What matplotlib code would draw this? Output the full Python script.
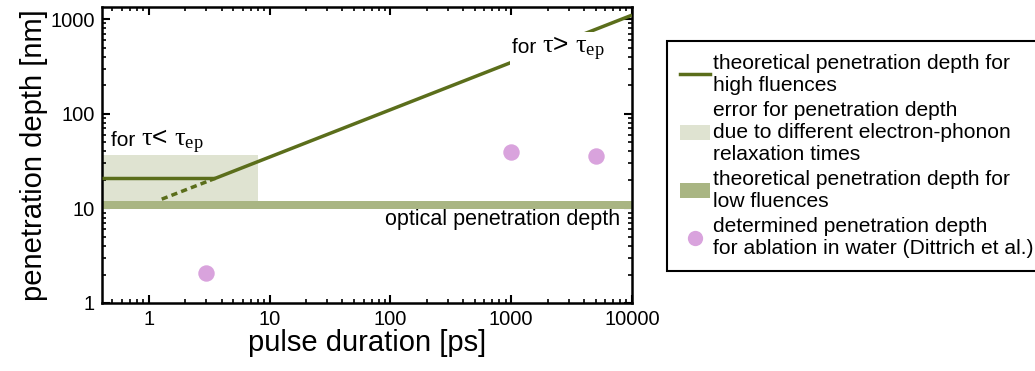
import matplotlib
matplotlib.use("Agg")
import matplotlib.pyplot as plt
from matplotlib.lines import Line2D
from matplotlib.patches import Patch
from matplotlib.offsetbox import TextArea, HPacker, AnnotationBbox

plt.rcParams['font.family'] = ['Liberation Sans', 'DejaVu Sans']
plt.rcParams['mathtext.fontset'] = 'custom'
plt.rcParams['mathtext.rm'] = 'Liberation Serif'
plt.rcParams['mathtext.it'] = 'Liberation Serif'
plt.rcParams['mathtext.bf'] = 'Liberation Serif:bold'

# ---- data ----
flat_x = [0.41, 3.5]
flat_y = [21.0, 21.0]
slope_x = [3.2, 10000]
slope_y = [19.7, 1100]
dash_x = [1.28, 3.2]
dash_y = [12.5, 19.7]
err_band_x = [0.41, 8.0]
err_band_lo = [12.0, 12.0]
err_band_hi = [36.5, 36.5]
opt_band_x = [0.41, 10000]
opt_band_lo = [9.8, 9.8]
opt_band_hi = [12.1, 12.1]
meas_x = [3, 1000, 5000]
meas_y = [2.05, 39, 36]
xticks = [1, 10, 100, 1000, 10000]
yticks = [1, 10, 100, 1000]

c_line = '#5b6e1b'
c_err = '#dfe3d1'
c_opt = '#a9b583'
c_dot = '#d9a3dd'

fig = plt.figure(figsize=(10.35, 3.71), dpi=100)
ax = fig.add_axes([102/1035, 1-303/371, (632-102)/1035, (303-7)/371])

ax.fill_between(err_band_x, err_band_lo, err_band_hi, color=c_err, lw=0, zorder=1)
ax.fill_between(opt_band_x, opt_band_lo, opt_band_hi, color=c_opt, lw=0, zorder=2)
ax.plot(flat_x, flat_y, color=c_line, lw=2.5, zorder=3, solid_capstyle='butt')
ax.plot(slope_x, slope_y, color=c_line, lw=2.5, zorder=3, solid_capstyle='butt')
ax.plot(dash_x, dash_y, color=c_line, lw=2.5, ls=(0, (1.8, 1.2)), zorder=3)
ax.scatter(meas_x, meas_y, s=140, color=c_dot, lw=0, zorder=4)

ax.set_xscale('log')
ax.set_yscale('log')
ax.set_xlim(0.41, 10000)
ax.set_ylim(1, 1340)
ax.set_xticks(xticks)
ax.set_xticklabels([str(t) for t in xticks])
ax.set_yticks(yticks)
ax.set_yticklabels([str(t) for t in yticks])
ax.tick_params(which='both', direction='in', top=True, right=True, labelsize=14.5)
ax.tick_params(which='major', length=6, width=1.5, pad=5)
ax.tick_params(which='minor', length=3, width=1.2)
for s in ax.spines.values():
    s.set_linewidth(1.8)
ax.set_xlabel('pulse duration [ps]', fontsize=21, labelpad=0)
ax.set_ylabel('penetration depth [nm]', fontsize=21, labelpad=2)


def tau_label(x, y, sign, z):
    a = TextArea('for ', textprops=dict(fontsize=15, family='Liberation Sans'))
    b = TextArea(r'$\tau$' + sign + r' $\tau_{\mathrm{ep}}$', textprops=dict(fontsize=19))
    pack = HPacker(children=[a, b], align='baseline', pad=0, sep=0)
    ab = AnnotationBbox(pack, (x, y), xycoords='data', box_alignment=(0, 0.5),
                        frameon=True, pad=0.15,
                        bboxprops=dict(facecolor='white', edgecolor='none'))
    ab.set_zorder(z)
    ax.add_artist(ab)


tau_label(0.49, 51, '<', 0.5)
tau_label(1020, 490, '>', 5)
ax.text(7950, 7.65, 'optical penetration depth', fontsize=15.5, ha='right', va='center',
        bbox=dict(facecolor='white', edgecolor='none', pad=1), zorder=1.5)

handles = [
    Line2D([], [], color=c_line, lw=2.5),
    Patch(facecolor=c_err, edgecolor='none'),
    Patch(facecolor=c_opt, edgecolor='none'),
    Line2D([], [], ls='none', marker='o', markersize=11, color=c_dot, markeredgewidth=0),
]
labels = [
    'theoretical penetration depth for\nhigh fluences',
    'error for penetration depth\ndue to different electron-phonon\nrelaxation times',
    'theoretical penetration depth for\nlow fluences',
    'determined penetration depth\nfor ablation in water (Dittrich et al.)',
]
leg = fig.legend(handles, labels, loc='upper left', bbox_to_anchor=(667/1035, 1-41/371),
                 fontsize=15.1, frameon=True, fancybox=False, framealpha=1,
                 edgecolor='black', handlelength=1.45, handletextpad=0.12,
                 labelspacing=0.3, borderpad=0.6, borderaxespad=0)
leg.get_frame().set_linewidth(1.5)

fig.savefig('out.png', dpi=100)
